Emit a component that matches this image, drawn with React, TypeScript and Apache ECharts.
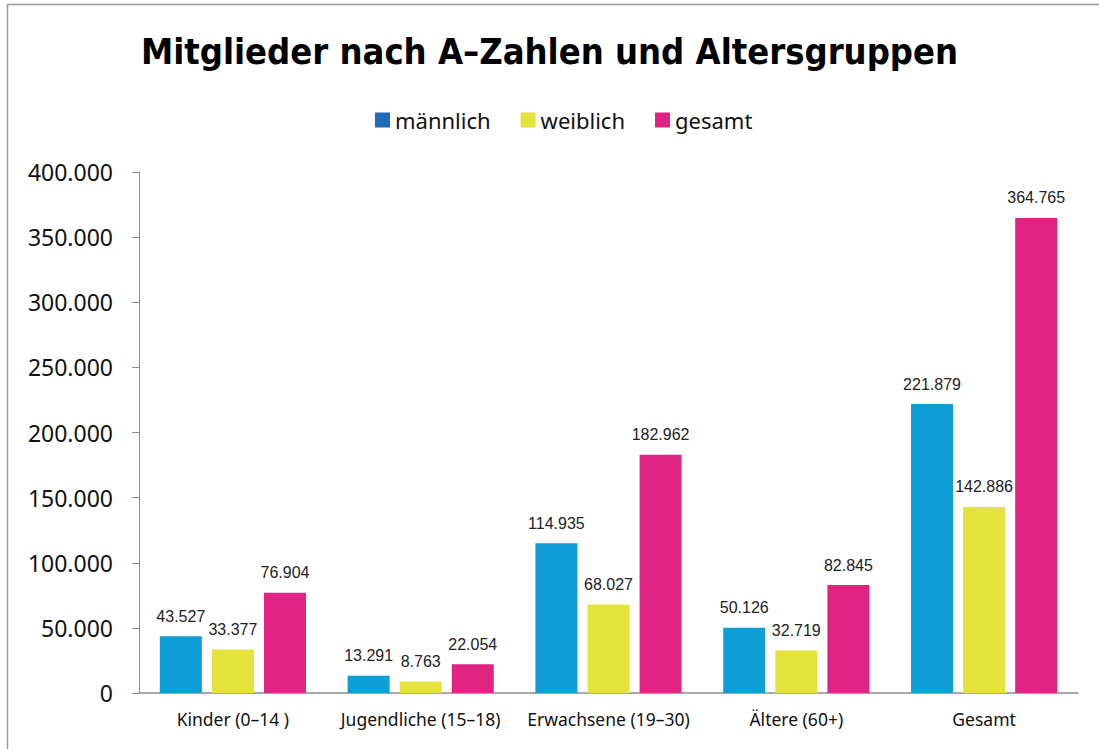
import React, { useEffect, useRef } from "react";
import * as echarts from "echarts";

const categories = ["Kinder (0–14 )", "Jugendliche (15–18)", "Erwachsene (19–30)", "Ältere (60+)", "Gesamt"];
const maennlich = [43527, 13291, 114935, 50126, 221879];
const weiblich = [33377, 8763, 68027, 32719, 142886];
const gesamt = [76904, 22054, 182962, 82845, 364765];
const seriesNames = ["männlich", "weiblich", "gesamt"];
const barColors = ["#0f9dd6", "#e4e33c", "#e02484"];
const legendColors = ["#1f6bb5", "#e4e33c", "#e02484"];

function fmt(v: number): string {
  const s = Math.round(v).toString();
  return s.replace(/\B(?=(\d{3})+(?!\d))/g, ".");
}

export default function App() {
  const ref = useRef<HTMLDivElement>(null);
  useEffect(() => {
    if (!ref.current) return;
    const chart = echarts.init(ref.current, undefined, { renderer: "svg" });
    const data = [maennlich, weiblich, gesamt];
    chart.setOption({
      animation: false,
      backgroundColor: "#ffffff",
      title: {
        text: "Mitglieder nach A–Zahlen und Altersgruppen",
        left: "center",
        top: 28,
        textStyle: {
          fontFamily: "'DejaVu Sans Condensed', Roboto, sans-serif",
          fontWeight: "bold",
          fontSize: 36,
          color: "#000",
        },
      },
      legend: {
        top: 104,
        left: 370,
        itemWidth: 15,
        itemHeight: 15,
        itemGap: 30,
        icon: "rect",
        textStyle: { fontFamily: "'Noto Sans', sans-serif", fontSize: 22, color: "#111", padding: [0, 0, 0, 0] },
        data: seriesNames.map((n, i) => ({ name: n, itemStyle: { color: legendColors[i] } })),
      },
      graphic: [
        {
          type: "polyline",
          shape: { points: [[7.5, 760], [7.5, 4.5], [1110, 4.5]] },
          style: { stroke: "#9a9a9a", lineWidth: 1.5, fill: "none" },
          silent: true,
        },
      ],
      grid: { left: 139, right: 21, top: 172, bottom: 56, containLabel: false },
      xAxis: {
        type: "category",
        data: categories,
        axisLine: { show: true, lineStyle: { color: "#8c8c8c", width: 1.5 } },
        axisTick: { show: false },
        axisLabel: { interval: 0, fontFamily: "'Noto Sans', sans-serif", fontSize: 17.5, color: "#111", margin: 17 },
      },
      yAxis: {
        type: "value",
        min: 0,
        max: 400000,
        interval: 50000,
        splitLine: { show: false },
        axisLine: { show: true, lineStyle: { color: "#8c8c8c", width: 1 } },
        axisTick: { show: true, length: 7, lineStyle: { color: "#8c8c8c" } },
        axisLabel: {
          fontFamily: "'Noto Sans', sans-serif",
          fontSize: 23,
          color: "#111",
          margin: 26,
          formatter: (v: number) => fmt(v),
        },
      },
      series: seriesNames.map((n, i) => ({
        name: n,
        type: "bar",
        data: data[i],
        barWidth: 42,
        barGap: "24%",
        itemStyle: { color: barColors[i] },
        label: {
          show: true,
          position: "top",
          distance: 12,
          fontFamily: "'Liberation Sans', Arial, sans-serif",
          fontSize: 16,
          color: "#222",
          formatter: (p: any) => fmt(p.value),
        },
      })),
    });
    return () => chart.dispose();
  }, []);
  return <div ref={ref} style={{ position: "absolute", left: 0, top: 0, width: 1099, height: 749 }} />;
}
